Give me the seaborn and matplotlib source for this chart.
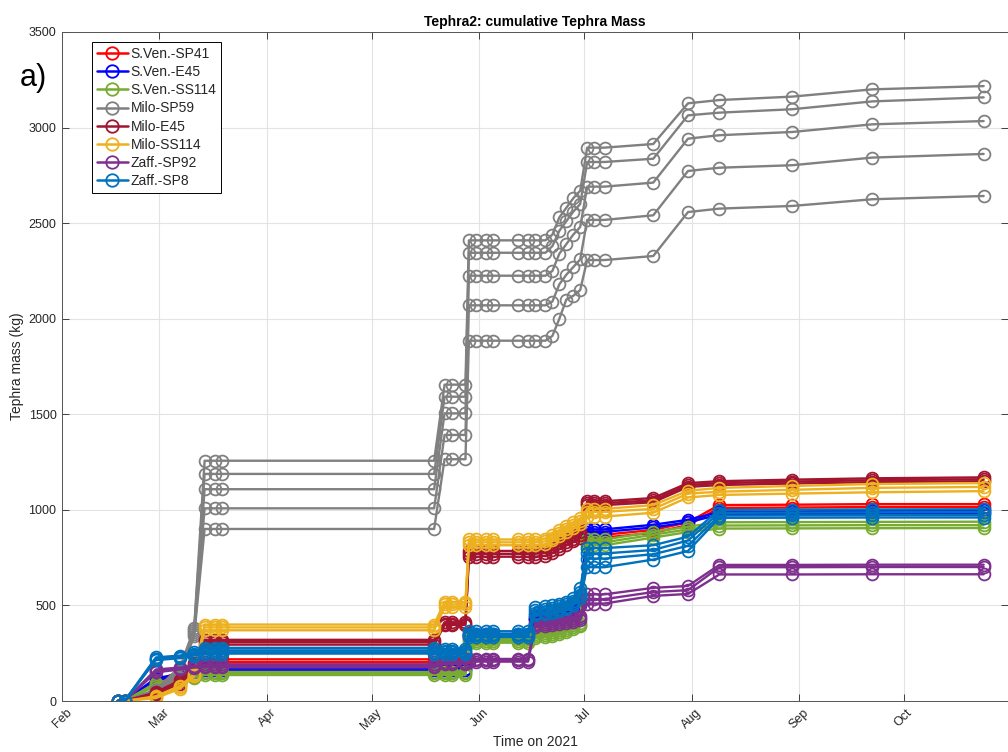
import matplotlib
matplotlib.use("Agg")
import matplotlib.pyplot as plt
import matplotlib.dates as mdates
from matplotlib.lines import Line2D
import pandas as pd
import seaborn as sns

# ---------------- data ----------------
dates = ["2021-02-17", "2021-02-19", "2021-02-28", "2021-03-07", "2021-03-11",
         "2021-03-14", "2021-03-17", "2021-03-19",
         "2021-05-19", "2021-05-22", "2021-05-24", "2021-05-28",
         "2021-05-29", "2021-05-31", "2021-06-03", "2021-06-05",
         "2021-06-12", "2021-06-15", "2021-06-17", "2021-06-20",
         "2021-06-22", "2021-06-24", "2021-06-26", "2021-06-28", "2021-06-30",
         "2021-07-02", "2021-07-04", "2021-07-07",
         "2021-07-21", "2021-07-31", "2021-08-09", "2021-08-30", "2021-09-22", "2021-10-24"]

sites = ["S.Ven.-SP41", "S.Ven.-E45", "S.Ven.-SS114", "Milo-SP59",
         "Milo-E45", "Milo-SS114", "Zaff.-SP92", "Zaff.-SP8"]
colors = ["#ff0000", "#0000ff", "#77ac30", "#808080",
          "#a2142f", "#edb120", "#7e2f8e", "#0072bd"]

sven_sp41 = [
    [0, 0, 105, 155, 185, 218, 218, 218, 218, 218, 218, 218, 345, 345, 345, 345, 345, 345, 430, 435,
     450, 470, 490, 510, 530, 870, 870, 870, 895, 935, 1025, 1027, 1030, 1030],
    [0, 0, 95, 145, 175, 203, 203, 203, 203, 203, 203, 203, 330, 330, 330, 330, 330, 330, 415, 420,
     435, 455, 475, 495, 515, 855, 855, 855, 880, 920, 1010, 1012, 1015, 1015],
]
sven_e45 = [
    [0, 0, 120, 140, 160, 170, 170, 170, 170, 170, 170, 170, 350, 350, 350, 350, 350, 350, 440, 445,
     455, 465, 475, 490, 510, 898, 898, 898, 922, 948, 988, 992, 995, 998],
    [0, 0, 115, 132, 150, 160, 160, 160, 160, 160, 160, 160, 340, 340, 340, 340, 340, 340, 430, 435,
     445, 455, 465, 480, 500, 885, 885, 885, 908, 935, 975, 978, 980, 982],
]
sven_ss114 = [
    [0, 0, 95, 122, 135, 152, 152, 152, 152, 152, 152, 152, 325, 325, 325, 325, 325, 325, 350, 355,
     360, 370, 380, 395, 410, 845, 845, 845, 885, 912, 935, 936, 937, 938],
    [0, 0, 88, 115, 128, 144, 144, 144, 144, 144, 144, 144, 315, 315, 315, 315, 315, 315, 340, 345,
     350, 360, 370, 385, 400, 830, 830, 830, 870, 898, 918, 919, 920, 920],
    [0, 0, 80, 108, 120, 136, 136, 136, 136, 136, 136, 136, 305, 305, 305, 305, 305, 305, 330, 335,
     340, 350, 360, 375, 390, 815, 815, 815, 855, 884, 902, 903, 904, 905],
]
milo_sp59 = [
    [0, 0, 60, 180, 380, 1257, 1257, 1257, 1257, 1655, 1655, 1655, 2410, 2410, 2410, 2410,
     2410, 2410, 2410, 2410, 2440, 2530, 2580, 2630, 2670, 2895, 2895, 2895, 2914, 3127, 3144, 3162, 3200, 3217],
    [0, 0, 55, 170, 370, 1188, 1188, 1188, 1188, 1592, 1592, 1592, 2345, 2345, 2345, 2345,
     2345, 2345, 2345, 2345, 2380, 2460, 2510, 2560, 2600, 2820, 2820, 2820, 2837, 3064, 3078, 3096, 3137, 3158],
    [0, 0, 50, 160, 360, 1108, 1108, 1108, 1108, 1505, 1505, 1505, 2225, 2225, 2225, 2225,
     2225, 2225, 2225, 2225, 2250, 2340, 2390, 2440, 2480, 2691, 2691, 2691, 2712, 2942, 2960, 2977, 3017, 3034],
    [0, 0, 45, 150, 350, 1008, 1008, 1008, 1008, 1392, 1392, 1392, 2070, 2070, 2070, 2070,
     2070, 2070, 2070, 2070, 2090, 2180, 2230, 2270, 2310, 2517, 2517, 2517, 2541, 2773, 2790, 2803, 2843, 2862],
    [0, 0, 40, 140, 340, 900, 900, 900, 900, 1265, 1265, 1265, 1885, 1885, 1885, 1885,
     1885, 1885, 1885, 1885, 1910, 2000, 2100, 2120, 2150, 2307, 2307, 2307, 2328, 2558, 2576, 2590, 2625, 2642],
]
milo_e45 = [
    [0, 0, 45, 110, 200, 320, 320, 320, 320, 412, 412, 412, 785, 785, 785, 785, 785, 785, 785, 790,
     805, 825, 845, 865, 885, 1045, 1045, 1045, 1062, 1140, 1150, 1158, 1165, 1170],
    [0, 0, 40, 100, 190, 308, 308, 308, 308, 405, 405, 405, 770, 770, 770, 770, 770, 770, 770, 775,
     790, 810, 830, 850, 870, 1035, 1035, 1035, 1050, 1130, 1140, 1148, 1155, 1160],
    [0, 0, 35, 90, 180, 295, 295, 295, 295, 398, 398, 398, 755, 755, 755, 755, 755, 755, 755, 760,
     775, 795, 815, 835, 855, 1025, 1025, 1025, 1040, 1120, 1130, 1138, 1145, 1150],
]
milo_ss114 = [
    [0, 0, 25, 80, 140, 400, 400, 400, 400, 518, 518, 518, 845, 845, 845, 845, 845, 845, 845, 850,
     870, 895, 915, 935, 955, 1005, 1005, 1005, 1025, 1100, 1115, 1125, 1135, 1140],
    [0, 0, 20, 73, 136, 385, 385, 385, 385, 505, 505, 505, 830, 830, 830, 830, 830, 830, 830, 835,
     855, 880, 900, 920, 940, 990, 990, 990, 1005, 1085, 1095, 1105, 1115, 1120],
    [0, 0, 15, 65, 130, 370, 370, 370, 370, 492, 492, 492, 815, 815, 815, 815, 815, 815, 815, 820,
     840, 865, 885, 905, 925, 965, 965, 965, 985, 1065, 1078, 1085, 1092, 1098],
]
zaff_sp92 = [
    [0, 0, 165, 175, 185, 192, 192, 192, 192, 206, 206, 206, 220, 220, 220, 220, 220, 220, 405, 412,
     418, 422, 428, 435, 445, 558, 558, 558, 592, 602, 712, 712, 713, 713],
    [0, 0, 158, 170, 180, 184, 184, 184, 184, 200, 200, 200, 213, 213, 213, 213, 213, 213, 395, 402,
     408, 412, 418, 425, 435, 533, 533, 533, 570, 580, 700, 700, 701, 701],
    [0, 0, 150, 165, 175, 176, 176, 176, 176, 194, 194, 194, 206, 206, 206, 206, 206, 206, 385, 392,
     398, 402, 408, 415, 425, 510, 510, 510, 550, 560, 662, 662, 663, 663],
]
zaff_sp8 = [
    [0, 0, 228, 238, 255, 278, 278, 278, 278, 270, 270, 270, 365, 365, 365, 365, 365, 365, 490, 495,
     500, 510, 520, 540, 590, 800, 800, 800, 815, 860, 1000, 1001, 1002, 1003],
    [0, 0, 222, 232, 248, 265, 265, 265, 265, 262, 262, 262, 352, 352, 352, 352, 352, 352, 475, 480,
     485, 495, 505, 525, 570, 772, 772, 772, 790, 840, 985, 986, 987, 988],
    [0, 0, 218, 228, 242, 255, 255, 255, 255, 255, 255, 255, 343, 343, 343, 343, 343, 343, 462, 467,
     472, 482, 492, 512, 555, 745, 745, 745, 768, 812, 970, 971, 972, 972],
    [0, 0, 214, 224, 238, 248, 248, 248, 248, 248, 248, 248, 335, 335, 335, 335, 335, 335, 450, 455,
     460, 470, 480, 500, 540, 700, 700, 700, 740, 785, 958, 959, 960, 960],
]
series = [sven_sp41, sven_e45, sven_ss114, milo_sp59, milo_e45, milo_ss114, zaff_sp92, zaff_sp8]

yticks = [0, 500, 1000, 1500, 2000, 2500, 3000, 3500]

# ---------------- build table ----------------
rows = []
for site, runs in zip(sites, series):
    for k, vals in enumerate(runs):
        for d, v in zip(dates, vals):
            rows.append((site, k, d, v))
df = pd.DataFrame(rows, columns=["site", "run", "date", "mass"])
df["date"] = pd.to_datetime(df["date"])

# ---------------- style ----------------
sns.set_theme(style="whitegrid")
plt.rcParams["font.family"] = ["Liberation Sans", "DejaVu Sans"]
txt = "#262626"

fig = plt.figure(figsize=(10.08, 7.52), dpi=100)
fig.patch.set_facecolor("white")
ax = fig.add_axes([62 / 1008, 51 / 752, 946 / 1008, 669 / 752])
ax.set_facecolor("white")

for site, c in zip(sites, colors):
    sub = df[df["site"] == site]
    sns.lineplot(data=sub, x="date", y="mass", units="run", estimator=None,
                 color=c, lw=1.7, marker="o", ms=8.5, markerfacecolor="none",
                 mec=c, mew=1.3, ax=ax, legend=False, sort=True)

ax.set_xlim(pd.Timestamp("2021-02-01"), pd.Timestamp("2021-10-31"))
ax.set_ylim(0, 3500)
ax.set_yticks(yticks)
ax.xaxis.set_major_locator(mdates.MonthLocator())
ax.xaxis.set_major_formatter(mdates.DateFormatter("%b"))
for lab in ax.get_xticklabels():
    lab.set_rotation(45)
    lab.set_ha("center")

ax.grid(True, color="#e3e3e3", lw=0.8)
ax.tick_params(axis="both", direction="in", length=5, width=0.6, colors=txt,
               labelsize=9, top=True, right=True, bottom=True, left=True, pad=4)
for sp in ax.spines.values():
    sp.set_color("#555555")
    sp.set_linewidth(0.7)

ax.set_title("Tephra2: cumulative Tephra Mass", fontsize=10, fontweight="bold",
             color="black", pad=4)
ax.set_xlabel("Time on 2021", fontsize=10, color=txt, labelpad=2)
ax.set_ylabel("Tephra mass (kg)", fontsize=10, color=txt, labelpad=3)

handles = [Line2D([0], [0], color=c, lw=1.8, marker="o", ms=9, markerfacecolor="none",
                  markeredgecolor=c, markeredgewidth=1.3) for c in colors]
leg = ax.legend(handles, sites, loc="upper left", bbox_to_anchor=(0.032, 0.985),
                fontsize=10, frameon=True, fancybox=False, framealpha=1,
                edgecolor="black", borderpad=0.35, labelspacing=0.3,
                handlelength=2.2, handletextpad=0.2, borderaxespad=0)
leg.get_frame().set_linewidth(0.7)

fig.text(0.02, 0.885, "a)", fontsize=22, color="black")

fig.savefig("out.png", dpi=100)
